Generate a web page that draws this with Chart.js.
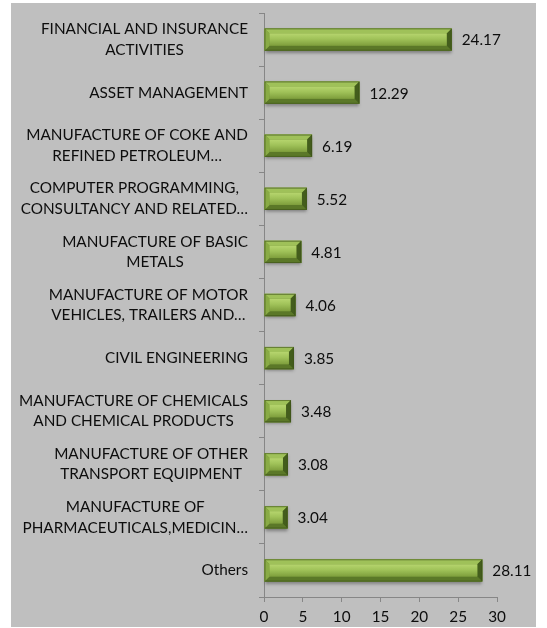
<!DOCTYPE html>
<html>
<head>
<meta charset="utf-8">
<script src="https://cdn.jsdelivr.net/npm/chart.js@4"></script>
<style>
  body { margin: 0; background: #fff; }
  #wrap { position: absolute; left: 11px; top: 3px; width: 525px; height: 624px; background: #bfbfbf; }
</style>
</head>
<body>
<div id="wrap"><canvas id="myChart"></canvas></div>
<script>
const ctx = document.getElementById('myChart');

const sectors = [
    ["FINANCIAL AND INSURANCE", "ACTIVITIES"],
    ["ASSET MANAGEMENT"],
    ["MANUFACTURE OF COKE AND", "REFINED PETROLEUM\u2026"],
    ["COMPUTER PROGRAMMING,", "CONSULTANCY AND RELATED\u2026"],
    ["MANUFACTURE OF BASIC", "METALS"],
    ["MANUFACTURE OF MOTOR", "VEHICLES, TRAILERS AND\u2026"],
    ["CIVIL ENGINEERING"],
    ["MANUFACTURE OF CHEMICALS", "AND CHEMICAL PRODUCTS"],
    ["MANUFACTURE OF OTHER", "TRANSPORT EQUIPMENT"],
    ["MANUFACTURE OF", "PHARMACEUTICALS,MEDICIN\u2026"],
    ["Others"]
];
const shares = [24.17, 12.29, 6.19, 5.52, 4.81, 4.06, 3.85, 3.48, 3.08, 3.04, 28.11];
const xTicks = [0, 5, 10, 15, 20, 25, 30];

const textFont = '15.3px Lato';
const textColor = '#0d0d0d';
const axisColor = '#868686';

// beveled green bars, drawn over the plain bar elements
const bevelBars = {
    id: 'bevelBars',
    afterDatasetsDraw(chart) {
        const c = chart.ctx;
        chart.getDatasetMeta(0).data.forEach((bar) => {
            const {x, y, base, height} = bar.getProps(['x', 'y', 'base', 'height'], true);
            const x0 = base, x1 = x, y0 = y - height / 2, y1 = y + height / 2;
            const b = Math.min(5, (x1 - x0) / 2);
            c.save();
            c.shadowColor = 'rgba(0,0,0,0.35)';
            c.shadowBlur = 3;
            c.shadowOffsetY = 2;
            c.fillStyle = '#6f8f34';
            c.fillRect(x0, y0, x1 - x0, y1 - y0);
            c.restore();

            const poly = (pts, fill) => {
                c.beginPath();
                c.moveTo(pts[0][0], pts[0][1]);
                pts.slice(1).forEach((p) => c.lineTo(p[0], p[1]));
                c.closePath();
                c.fillStyle = fill;
                c.fill();
            };
            poly([[x0, y0], [x1, y0], [x1 - b, y0 + b], [x0 + b, y0 + b]], '#9fc159');
            poly([[x0, y1], [x1, y1], [x1 - b, y1 - b], [x0 + b, y1 - b]], '#5b7828');
            poly([[x0, y0], [x0 + b, y0 + b], [x0 + b, y1 - b], [x0, y1]], '#89ab45');
            poly([[x1, y0], [x1 - b, y0 + b], [x1 - b, y1 - b], [x1, y1]], '#435d1c');

            const g = c.createLinearGradient(0, y0 + b, 0, y1 - b);
            g.addColorStop(0, '#b6d56e');
            g.addColorStop(0.45, '#a0c259');
            g.addColorStop(1, '#7e9e3c');
            c.fillStyle = g;
            c.fillRect(x0 + b, y0 + b, x1 - x0 - 2 * b, y1 - y0 - 2 * b);

            c.strokeStyle = 'rgba(60,80,25,0.6)';
            c.lineWidth = 1;
            c.strokeRect(x0 + 0.5, y0 + 0.5, x1 - x0 - 1, y1 - y0 - 1);
        });
    }
};

// category names (centred lines, block right-aligned) and value labels
const textLabels = {
    id: 'textLabels',
    afterDraw(chart) {
        const c = chart.ctx;
        const yScale = chart.scales.y;
        const lineH = 20.5;
        const rightEdge = yScale.right - 16;
        c.save();
        c.font = textFont;
        c.fillStyle = textColor;
        c.textBaseline = 'middle';
        c.textAlign = 'center';
        sectors.forEach((lines, i) => {
            const yc = yScale.getPixelForValue(i);
            const w = Math.max(...lines.map((l) => c.measureText(l).width));
            const cx = rightEdge - w / 2;
            lines.forEach((l, j) => {
                c.fillText(l, cx, yc + (j - (lines.length - 1) / 2) * lineH);
            });
        });
        c.textAlign = 'left';
        chart.getDatasetMeta(0).data.forEach((bar, i) => {
            c.fillText(shares[i].toFixed(2), bar.x + 10, bar.y + 1);
        });
        c.restore();
    }
};

let dataChart = new Chart(ctx, {
type: 'bar',
data: {
    labels: sectors,
    datasets: [{
    data: shares,
    backgroundColor: '#8db04a',
    barPercentage: 0.84,
    categoryPercentage: 0.5,
    }]
},
options: {
    indexAxis: 'y',
    responsive: true,
    maintainAspectRatio: false,
    animation: false,
    layout: {
        padding: {left: 0, right: 39, top: 10, bottom: 0}
    },
    scales: {
    x: {
        min: 0,
        max: 30,
        afterBuildTicks: (scale) => { scale.ticks = xTicks.map((v) => ({value: v})); },
        afterFit: (scale) => { scale.height = 30; },
        grid: {
            drawOnChartArea: false,
            drawTicks: true,
            tickLength: 5,
            color: axisColor
        },
        border: {color: axisColor},
        ticks: {
            font: {family: 'Lato', size: 15.3},
            color: textColor,
            padding: 6,
            maxRotation: 0
        }
    },
    y: {
        afterFit: (scale) => { scale.width = 253; },
        grid: {
            offset: true,
            drawOnChartArea: false,
            drawTicks: true,
            tickLength: 5,
            color: axisColor
        },
        border: {color: axisColor},
        ticks: {display: false}
    }
    },
    plugins: {
        legend: {display: false},
        tooltip: {enabled: false}
    }
},
plugins: [bevelBars, textLabels]
});
</script>
</body>
</html>
